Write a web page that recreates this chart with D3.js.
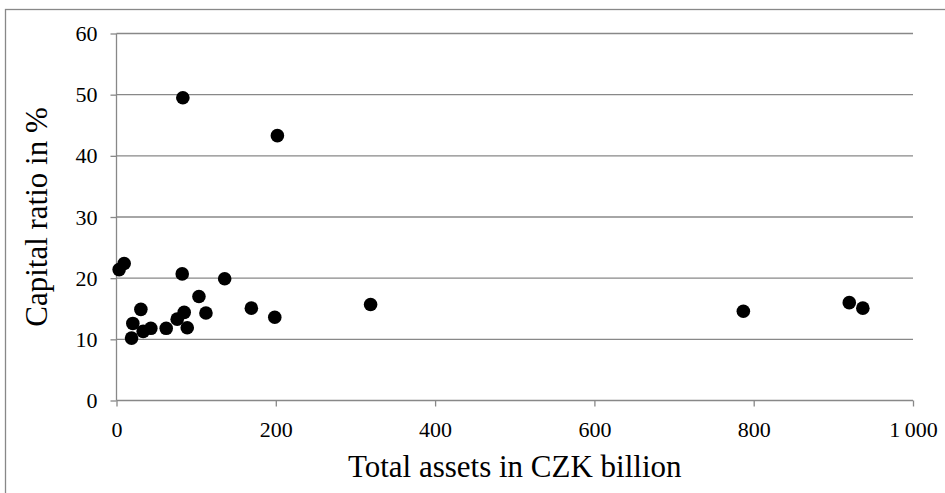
<!DOCTYPE html>
<html>
<head>
<meta charset="utf-8">
<script src="https://cdn.jsdelivr.net/npm/d3@7/dist/d3.min.js"></script>
<style>
  body { margin:0; background:#fff; }
  svg text { font-family:"Liberation Serif","Times New Roman",serif; fill:#000; }
</style>
</head>
<body>
<svg id="chart" width="945" height="493"></svg>
<script>
// values (total assets in CZK bn, capital ratio in %)
const assets = [3.3, 9.6, 82.5, 135.8, 103.5, 30.6, 169.3, 198.7, 112.3, 85, 76.2, 20.5,
                88.8, 62.4, 43.1, 33.5, 18.9, 83.3, 202, 319, 787, 920, 937];
const capRatio = [21.4, 22.4, 20.7, 19.9, 17.0, 14.9, 15.1, 13.6, 14.3, 14.4, 13.3, 12.6,
                  11.9, 11.8, 11.8, 11.3, 10.2, 49.5, 43.3, 15.7, 14.6, 16.0, 15.1];
const xTicks = [0, 200, 400, 600, 800, 1000];
const yTicks = [0, 10, 20, 30, 40, 50, 60];

const W = 945, H = 493;
const m = {left:116.5, right:W-913, top:33.5, bottom:H-400.5};
const gridCol = '#888';

const svg = d3.select('#chart');

// outer chart border (runs off the right/bottom edge like the source)
svg.append('rect').attr('x',5.5).attr('y',9.5).attr('width',W).attr('height',H)
  .attr('fill','none').attr('stroke',gridCol).attr('stroke-width',1.3);

const x = d3.scaleLinear().domain([0,1000]).range([m.left, W-m.right]);
const y = d3.scaleLinear().domain([0,60]).range([H-m.bottom, m.top]);

// horizontal gridlines
svg.append('g').selectAll('line').data(yTicks.filter(d=>d>0)).join('line')
  .attr('x1',x(0)).attr('x2',x(1000))
  .attr('y1',d=>y(d)).attr('y2',d=>y(d))
  .attr('stroke',gridCol).attr('stroke-width',1.3);

const fmt = d => d>=1000 ? d3.format(',')(d).replace(',', '\u2009') : String(d);

const xAxis = svg.append('g').attr('transform',`translate(0,${y(0)})`)
  .call(d3.axisBottom(x).tickValues(xTicks).tickSize(6).tickPadding(10).tickFormat(fmt));
const yAxis = svg.append('g').attr('transform',`translate(${x(0)},0)`)
  .call(d3.axisLeft(y).tickValues(yTicks).tickSize(6).tickPadding(13));

[xAxis, yAxis].forEach(a=>{
  a.select('.domain').remove();
  a.selectAll('line').attr('stroke',gridCol).attr('stroke-width',1.3);
  a.selectAll('text').style('font-size','22px').attr('fill','#000');
});
xAxis.selectAll('text').attr('dy','0.95em');
// axis lines
svg.append('line').attr('x1',x(0)).attr('x2',x(1000)).attr('y1',y(0)).attr('y2',y(0))
  .attr('stroke',gridCol).attr('stroke-width',1.3);
svg.append('line').attr('x1',x(0)).attr('x2',x(0)).attr('y1',y(60)).attr('y2',y(0))
  .attr('stroke',gridCol).attr('stroke-width',1.3);

// points
svg.append('g').selectAll('circle').data(assets.map((a,i)=>({a, c:capRatio[i]}))).join('circle')
  .attr('cx',d=>x(d.a)).attr('cy',d=>y(d.c)).attr('r',6.8).attr('fill','#000');

// axis titles
svg.append('text').attr('x',(x(0)+x(1000))/2).attr('y',477)
  .attr('text-anchor','middle').style('font-size','31px').text('Total assets in CZK billion');
svg.append('text').attr('transform',`translate(47,${(y(0)+y(60))/2}) rotate(-90)`)
  .attr('text-anchor','middle').style('font-size','31px').text('Capital ratio in %');
</script>
</body>
</html>
